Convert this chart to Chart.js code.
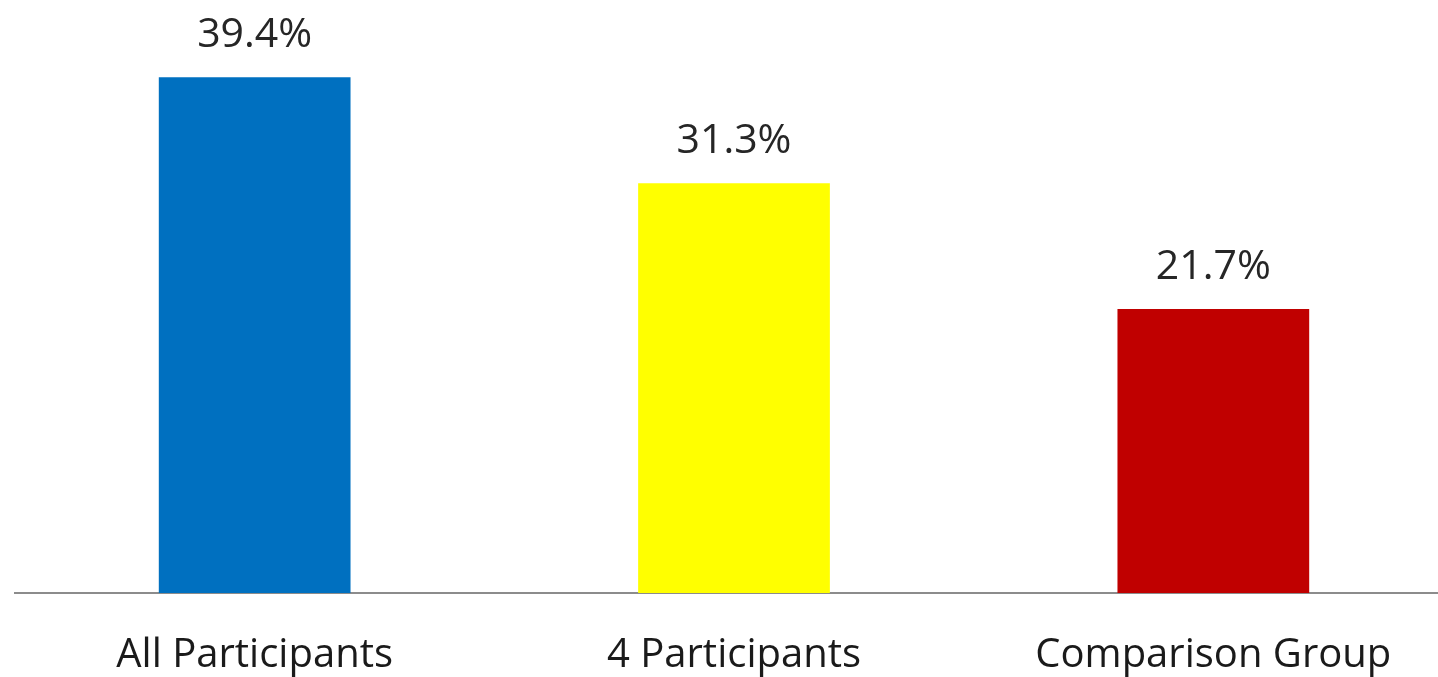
<!DOCTYPE html>
<html>
<head>
<meta charset="utf-8">
<script src="https://cdn.jsdelivr.net/npm/chart.js@4/dist/chart.umd.min.js"></script>
<style>
  html, body { margin: 0; padding: 0; background: #fff; overflow: hidden; }
  #wrap { width: 1453px; height: 677px; }
</style>
</head>
<body>
<div id="wrap"><canvas id="chart"></canvas></div>
<script>
// Bar chart: share of participants by group
const categories = ['All Participants', '4 Participants', 'Comparison Group'];
const values = [39.4, 31.3, 21.7];
const barColors = ['#0070C0', '#FFFF00', '#C00000'];

const FONT = '"Open Sans", "Segoe UI", sans-serif';

// draw the value labels above each bar
const valueLabels = {
    id: 'valueLabels',
    afterDatasetsDraw(chart) {
        const ctx = chart.ctx;
        const meta = chart.getDatasetMeta(0);
        ctx.save();
        ctx.font = '41px ' + FONT;
        ctx.fillStyle = '#262626';
        ctx.textAlign = 'center';
        ctx.textBaseline = 'alphabetic';
        meta.data.forEach((bar, i) => {
            ctx.fillText(values[i].toFixed(1) + '%', bar.x, bar.y - 30);
        });
        ctx.restore();
    }
};

new Chart(document.getElementById('chart'), {
    type: 'bar',
    data: {
        labels: categories,
        datasets: [{
            data: values,
            backgroundColor: barColors,
            borderWidth: 0,
            barPercentage: 0.4,
            categoryPercentage: 1
        }]
    },
    options: {
        responsive: true,
        maintainAspectRatio: false,
        animation: false,
        layout: { padding: { left: 15, right: 0, top: 19, bottom: 0 } },
        plugins: { legend: { display: false }, tooltip: { enabled: false } },
        scales: {
            y: { display: false, min: 0, max: 43.85 },
            x: {
                grid: { display: false, drawTicks: false },
                border: { display: true, color: '#8c8c8c', width: 2 },
                ticks: { color: '#1a1a1a', font: { family: FONT, size: 40 }, padding: 39, maxRotation: 0 },
                afterFit(scale) { scale.height = 84; }
            }
        }
    },
    plugins: [valueLabels]
});
</script>
</body>
</html>
